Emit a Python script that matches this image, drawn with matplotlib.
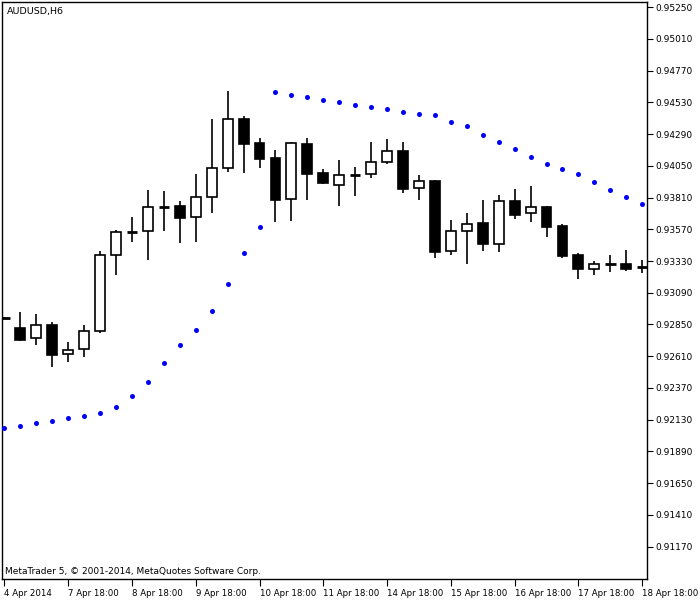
import matplotlib

matplotlib.use("Agg")
import matplotlib.pyplot as plt
import matplotlib.ticker as ticker

# AUDUSD H6 candles
opens = [0.92899, 0.92822, 0.92747, 0.92845, 0.92626, 0.92664, 0.92799, 0.93373,
         0.93548, 0.93554, 0.93739, 0.93743, 0.93660, 0.93815, 0.94030, 0.94407,
         0.94221, 0.94107, 0.93796, 0.94213, 0.93994, 0.93906, 0.93978, 0.93984,
         0.94075, 0.94158, 0.93879, 0.93934, 0.93403, 0.93554, 0.93617, 0.93461,
         0.93783, 0.93690, 0.93738, 0.93594, 0.93375, 0.93272, 0.93306, 0.93307,
         0.93286]
closes = [0.92901, 0.92736, 0.92845, 0.92623, 0.92656, 0.92799, 0.93375, 0.93547,
          0.93550, 0.93735, 0.93741, 0.93657, 0.93811, 0.94030, 0.94407, 0.94215,
          0.94102, 0.93793, 0.94221, 0.93989, 0.93921, 0.93977, 0.93980, 0.94077,
          0.94158, 0.93876, 0.93932, 0.93400, 0.93554, 0.93607, 0.93461, 0.93781,
          0.93679, 0.93735, 0.93589, 0.93370, 0.93272, 0.93307, 0.93308, 0.93272,
          0.93288]
highs = [0.92903, 0.92945, 0.92930, 0.92870, 0.92719, 0.92847, 0.93403, 0.93564,
         0.93662, 0.93866, 0.93858, 0.93783, 0.93987, 0.94402, 0.94613, 0.94424,
         0.94258, 0.94168, 0.94228, 0.94258, 0.94024, 0.94092, 0.94039, 0.94228,
         0.94251, 0.94228, 0.93979, 0.93941, 0.93639, 0.93692, 0.93790, 0.93828,
         0.93873, 0.93896, 0.93745, 0.93609, 0.93390, 0.93332, 0.93375, 0.93413,
         0.93338]
lows = [0.92897, 0.92729, 0.92698, 0.92525, 0.92563, 0.92608, 0.92789, 0.93227,
        0.93476, 0.93340, 0.93559, 0.93468, 0.93476, 0.93695, 0.94004, 0.93996,
        0.94034, 0.93627, 0.93634, 0.93793, 0.93913, 0.93747, 0.93823, 0.93959,
        0.94064, 0.93845, 0.93793, 0.93355, 0.93378, 0.93310, 0.93408, 0.93400,
        0.93649, 0.93627, 0.93513, 0.93355, 0.93196, 0.93227, 0.93249, 0.93257,
        0.93242]
# Parabolic SAR
sar = [0.92067, 0.92082, 0.92105, 0.92120, 0.92143, 0.92158, 0.92181, 0.92226,
       0.92309, 0.92415, 0.92558, 0.92694, 0.92807, 0.92950, 0.93154, 0.93388,
       0.93584, 0.94611, 0.94588, 0.94573, 0.94550, 0.94535, 0.94513, 0.94498,
       0.94482, 0.94460, 0.94445, 0.94430, 0.94384, 0.94347, 0.94286, 0.94226,
       0.94173, 0.94120, 0.94067, 0.94022, 0.93984, 0.93924, 0.93864, 0.93811,
       0.93758]
xlabels = ["4 Apr 2014", "7 Apr 18:00", "8 Apr 18:00", "9 Apr 18:00", "10 Apr 18:00",
           "11 Apr 18:00", "14 Apr 18:00", "15 Apr 18:00", "16 Apr 18:00",
           "17 Apr 18:00", "18 Apr 18:00"]
yticks = [0.95250, 0.95010, 0.94770, 0.94530, 0.94290, 0.94050, 0.93810, 0.93570,
          0.93330, 0.93090, 0.92850, 0.92610, 0.92370, 0.92130, 0.91890, 0.91650,
          0.91410, 0.91170]

fig = plt.figure(figsize=(7, 6), dpi=100)
ax = fig.add_axes([2 / 700, 21 / 600, 645 / 700, 577 / 600])

for i in range(len(opens)):
    o, c, h, l = opens[i], closes[i], highs[i], lows[i]
    ax.vlines(i, l, h, color="black", lw=1.2, zorder=2)
    if abs(c - o) < 0.00004:
        ax.hlines((o + c) / 2, i - 0.33, i + 0.33, color="black", lw=2, zorder=3)
    else:
        face = "white" if c > o else "black"
        ax.bar(i, abs(c - o), bottom=min(o, c), width=0.62, color=face,
               edgecolor="black", lw=1.2, zorder=3)

ax.scatter(range(len(sar)), sar, s=13, color="#0000ff", zorder=4, linewidths=0)

ax.set_xlim(-0.15, 40.3)
ax.set_ylim(0.90926, 0.95288)
ax.set_xticks(range(0, 41, 4))
ax.set_xticklabels(xlabels, ha="left", fontsize=6.2)
ax.tick_params(axis="x", length=5, pad=2, direction="out")
ax.yaxis.tick_right()
ax.set_yticks(yticks)
ax.yaxis.set_major_formatter(ticker.FuncFormatter(lambda v, pos: f"{v:.5f}"))
ax.tick_params(axis="y", length=4, labelsize=6.5, pad=2)
for s in ax.spines.values():
    s.set_linewidth(1)

ax.text(0.008, 0.992, "AUDUSD,H6", transform=ax.transAxes, fontsize=6.8, va="top")
ax.text(0.004, 0.006, "MetaTrader 5, \u00a9 2001-2014, MetaQuotes Software Corp.",
        transform=ax.transAxes, fontsize=6.5, va="bottom")

fig.savefig("out.png")
plt.close()
